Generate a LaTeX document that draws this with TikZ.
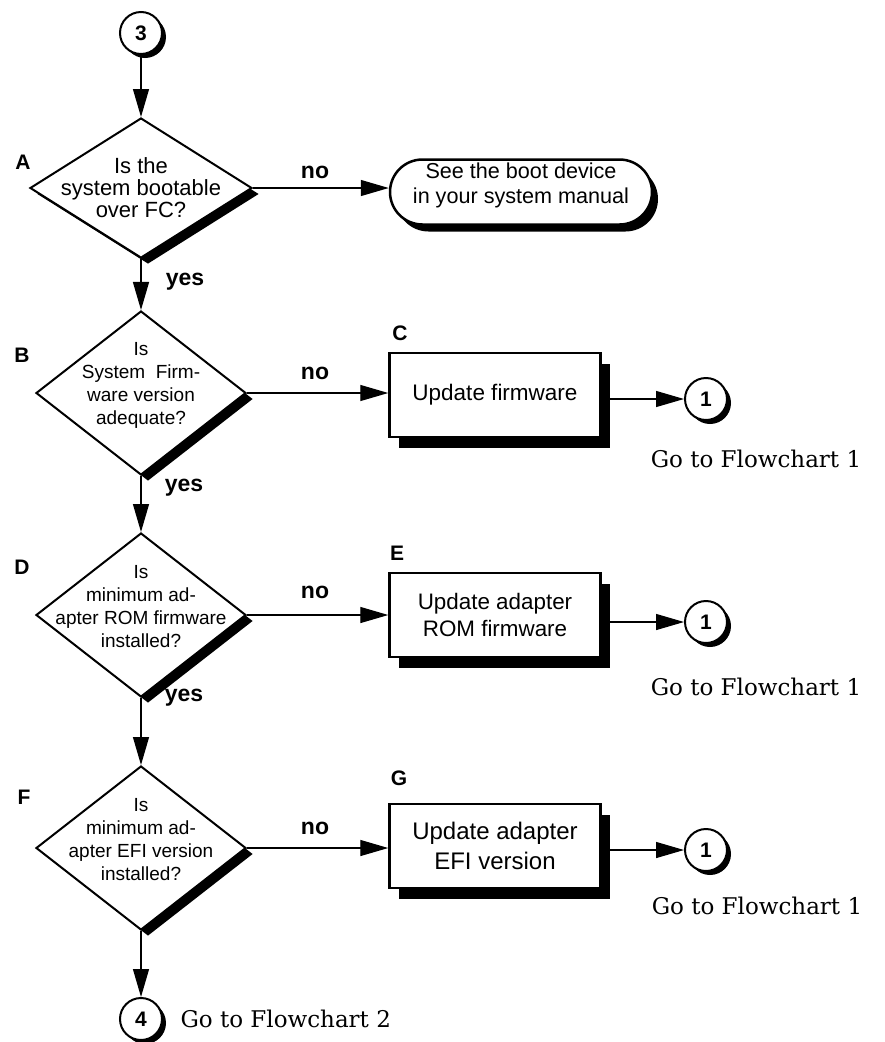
\documentclass[tikz,border=0pt]{standalone}
\usepackage{fontspec}
\setsansfont{Liberation Sans}
\newfontfamily\serifschrift{DejaVu Serif}
\usetikzlibrary{arrows.meta,shapes.geometric,shapes.misc,shadows}
\def\fs#1#2{\fontsize{#1}{#2}\selectfont}

\begin{document}
\begin{tikzpicture}[x=1pt,y=-1pt,
	>={Triangle[length=28pt,width=16pt]},
	pfeil/.style={->,line width=1.3pt},
	schatten/.style 2 args={drop shadow={shadow xshift=#1,shadow yshift=#2,fill=black,opacity=1}},
	entscheidung/.style={diamond,draw,line width=2pt,fill=white,inner sep=0pt,
		minimum width=210pt,minimum height=164pt,schatten={7pt}{-6pt}},
	kasten/.style={rectangle,draw,line width=2.5pt,fill=white,align=center,font=\sffamily,
		minimum width=211pt,minimum height=84pt,schatten={9pt}{-11pt}},
	hinweis/.style={rounded rectangle,draw,line width=2.5pt,fill=white,inner sep=0pt,
		minimum width=262pt,minimum height=65pt,schatten={6pt}{-7pt}},
	verbinder/.style={circle,draw,line width=2pt,fill=white,minimum size=42pt,inner sep=0pt,
		font=\sffamily\bfseries\fs{21}{21},schatten={4pt}{-4pt}},
	frage/.style={font=\sffamily\fs{19}{23},align=center},
	marke/.style={font=\sffamily\bfseries\fs{21}{21}},
	antwort/.style={font=\sffamily\bfseries\fs{23}{23}},
	ziel/.style={font=\serifschrift\fs{23}{23}}
]
\useasboundingbox (0,0) rectangle (884,1042);

% Verbinder
\node[verbinder] (c3) at (141,33) {3};
\node[verbinder] (c1a) at (706,399) {1};
\node[verbinder] (c1b) at (706,622) {1};
\node[verbinder] (c1c) at (706,850) {1};
\node[verbinder] (c4) at (141,1019) {4};

% Entscheidungen
\node[entscheidung,minimum width=222pt,minimum height=140pt,
	label={[font=\sffamily\fs{22}{22},align=center]center:{Is the\\system bootable\\over FC?}}] (A) at (141,188) {};
\node[entscheidung,label={[frage,yshift=8pt]center:{Is\\System\ \ Firm-\\ware version\\adequate?}}] (B) at (141,393) {};
\node[entscheidung,label={[frage,yshift=8pt]center:{Is\\minimum ad-\\apter ROM firmware\\installed?}}] (D) at (141,615) {};
\node[entscheidung,label={[frage,yshift=8pt]center:{Is\\minimum ad-\\apter EFI version\\installed?}}] (F) at (141,848) {};

% Kaesten
\node[hinweis,label={[font=\sffamily\fs{21.6}{25},align=center,yshift=7pt]center:{See the boot device\\in your system manual}}] (S) at (521,192) {};
\node[kasten,font=\sffamily\fs{22.5}{26}] (C) at (495,395) {Update firmware};
\node[kasten,font=\sffamily\fs{22.4}{26.7}] (E) at (495,615) {Update adapter\\ROM firmware};
\node[kasten,font=\sffamily\fs{24}{30}] (G) at (495,846) {Update adapter\\EFI version};

% Marken
\node[marke] (mA) at (23,162) {A};
\node[marke] (mB) at (22,355) {B};
\node[marke] (mC) at (400,333) {C};
\node[marke] (mD) at (22,567) {D};
\node[marke] (mE) at (397,553) {E};
\node[marke] (mF) at (24,797) {F};
\node[marke] (mG) at (399,778) {G};

\node[antwort] (nA) at (315,172) {no};
\node[antwort] (nB) at (315,373) {no};
\node[antwort] (nD) at (315,592) {no};
\node[antwort] (nF) at (315,828) {no};
\node[antwort] (yA) at (185,282) {yes};
\node[antwort] (yB) at (184,488) {yes};
\node[antwort] (yD) at (184,698) {yes};

\node[ziel] (z1) at (756,459) {Go to Flowchart 1};
\node[ziel] (z2) at (756,687) {Go to Flowchart 1};
\node[ziel] (z3) at (757,906) {Go to Flowchart 1};
\node[ziel,anchor=west] (z4) at (177,1019) {Go to Flowchart 2};

% Pfeile
\draw[pfeil] (c3) -- (A);
\draw[pfeil] (A) -- (B);
\draw[pfeil] (B) -- (D);
\draw[pfeil] (D) -- (F);
\draw[pfeil] (F) -- (c4);
\draw[pfeil] (A.east) -- (A.east -| S.west);
\draw[pfeil] (B.east) -- (B.east -| C.west);
\draw[pfeil] (D.east) -- (D.east -| E.west);
\draw[pfeil] (F.east) -- (F.east -| G.west);
\draw[pfeil] (C.east |- c1a) -- (c1a);
\draw[pfeil] (E.east |- c1b) -- (c1b);
\draw[pfeil] (G.east |- c1c) -- (c1c);

\end{tikzpicture}
\end{document}
